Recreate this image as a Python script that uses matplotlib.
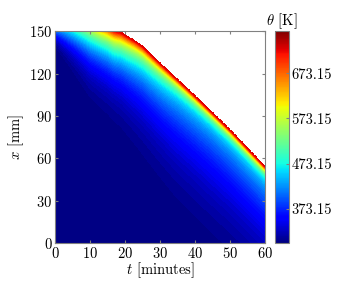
import math
import numpy as np
import matplotlib
matplotlib.use("Agg")
import matplotlib.pyplot as plt
from matplotlib import cm, colors

plt.rcParams['font.family'] = 'serif'
plt.rcParams['font.serif'] = ['cmr10']
plt.rcParams['mathtext.fontset'] = 'cm'
plt.rcParams['axes.formatter.use_mathtext'] = True
plt.rcParams['font.size'] = 10.5

# ablation front (t in minutes, x in mm)
t_front = [0, 10, 17, 19, 21, 23, 25, 30, 35, 40, 45, 50, 55, 60]
x_front = [150, 150, 150, 148.5, 145.5, 142.5, 139, 127, 115.5, 104, 92, 80, 67, 54]

# temperature at the hot surface / front
t_surf = [0, 5.4, 9, 12, 15, 17, 60]
theta_surf = [400, 473, 532, 590, 655, 725, 725]

# shape of the profile below the front
t_prof = [0, 10, 18, 25, 35, 45, 60]
near_share = [0.0, 0.15, 0.35, 0.45, 0.55, 0.6, 0.6]
near_depth = [5, 6, 7, 6, 4.5, 4, 3.5]
tail_depth = [8, 30, 40, 48, 55, 57, 55]

theta_init = 298.15
theta_min, theta_max = 298.15, 766.0
cbar_ticks = [373.15, 473.15, 573.15, 673.15]

t = np.linspace(0, 60, 241)
x = np.linspace(0, 150, 301)
T, X = np.meshgrid(t, x)

xf = np.interp(T, t_front, x_front)
ts = np.interp(T, t_surf, theta_surf)
a = np.interp(T, t_prof, near_share)
d1 = np.interp(T, t_prof, near_depth)
d2 = np.interp(T, t_prof, tail_depth)
d = xf - X
dc = np.clip(d, 0, None)
erfc = np.vectorize(math.erfc)
frac = a * np.exp(-dc / d1) + (1 - a) * erfc(dc / d2)
theta = theta_init + (ts - theta_init) * frac
# keep one extra cell above the front so the red edge stays closed
theta = np.ma.masked_where(d < -0.6, theta)

fig = plt.figure(figsize=(3.49, 2.91), dpi=100)
ax = fig.add_axes([0.158, 0.165, 0.601, 0.728])
cax = fig.add_axes([0.788, 0.165, 0.040, 0.728])

levels = np.linspace(theta_min, theta_max, 80)
ax.contourf(T, X, theta, levels=levels, cmap='jet', vmin=theta_min, vmax=theta_max)

ax.set_xlim(0, 60)
ax.set_ylim(0, 150)
ax.set_xticks(range(0, 61, 10))
ax.set_yticks(range(0, 151, 30))
ax.tick_params(direction='in', top=True, right=True, length=2.5, color='0.5', pad=2)
for s in ax.spines.values():
    s.set_color('0.5')
ax.set_xlabel('$t$ [minutes]', labelpad=0)
ax.set_ylabel('$x$ [mm]', labelpad=2)

sm = cm.ScalarMappable(norm=colors.Normalize(theta_min, theta_max), cmap='jet')
cb = fig.colorbar(sm, cax=cax, ticks=cbar_ticks)
cb.ax.set_yticklabels(['%.2f' % v for v in cbar_ticks])
cb.ax.tick_params(direction='in', length=2.5, color='0.5', pad=2)
cb.outline.set_edgecolor('0.5')
cax.set_title(r'$\theta$ [K]', fontsize=10.5, pad=3)

fig.savefig('out.png', dpi=100)
